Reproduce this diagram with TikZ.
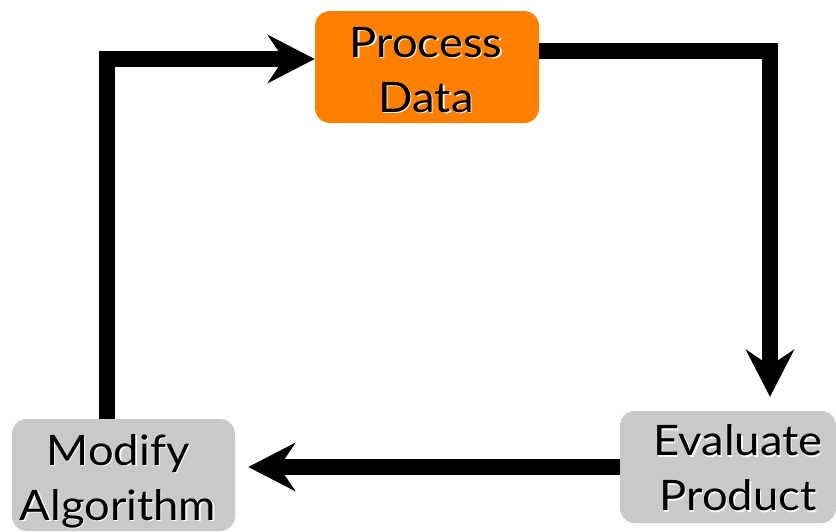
\documentclass[tikz,border=0pt]{standalone}
\usepackage{fontspec}
\setmainfont{Lato}[FakeStretch=1.08]
\usetikzlibrary{arrows.meta}
\definecolor{procorange}{RGB}{255,127,0}
\definecolor{stepgrey}{RGB}{201,201,201}
\tikzset{
  stagebox/.style={rounded corners=15pt, inner sep=0pt},
  stagetext/.style={align=center, inner sep=0pt, font=\fontsize{42}{55}\selectfont},
  textshadow/.style={stagetext, text=white, opacity=0.9},
  flow/.style={line width=16pt, miter limit=10, line join=miter,
    -{Stealth[length=47pt, width=48pt, inset=16pt]}},
}
\newcommand{\stagelabel}[3]{%
  \node[textshadow] at ([xshift=1.3pt,yshift=-1.3pt]#1) {#3};
  \node[stagetext] (#2) at (#1) {#3};
}
\begin{document}
\begin{tikzpicture}[x=1pt,y=-1pt]
  \useasboundingbox (0,0) rectangle (836,531);

  % stage boxes
  \node[stagebox, fill=procorange, minimum width=224pt, minimum height=112pt]
    (proc) at (427,67) {};
  \node[stagebox, fill=stepgrey, minimum width=216pt, minimum height=112pt]
    (eval) at (728,467) {};
  \node[stagebox, fill=stepgrey, minimum width=223pt, minimum height=112pt]
    (mod) at (123.5,475) {};

  % stage labels
  \stagelabel{426,70}{proctext}{Process\\Data}
  \stagelabel{738,468}{evaltext}{Evaluate\\Product}
  \stagelabel{118,481}{modtext}{Modify\\Algorithm}

  % feedback loop
  \draw[flow] ([xshift=-17pt]mod.north) |- ([yshift=8pt]proc.west);
  \draw[flow, shorten >=14pt] ([yshift=16pt]proc.east) -| ([xshift=42pt]eval.north);
  \draw[flow, shorten >=13pt] (eval.west) -- (eval.west -| mod.east);
\end{tikzpicture}
\end{document}
